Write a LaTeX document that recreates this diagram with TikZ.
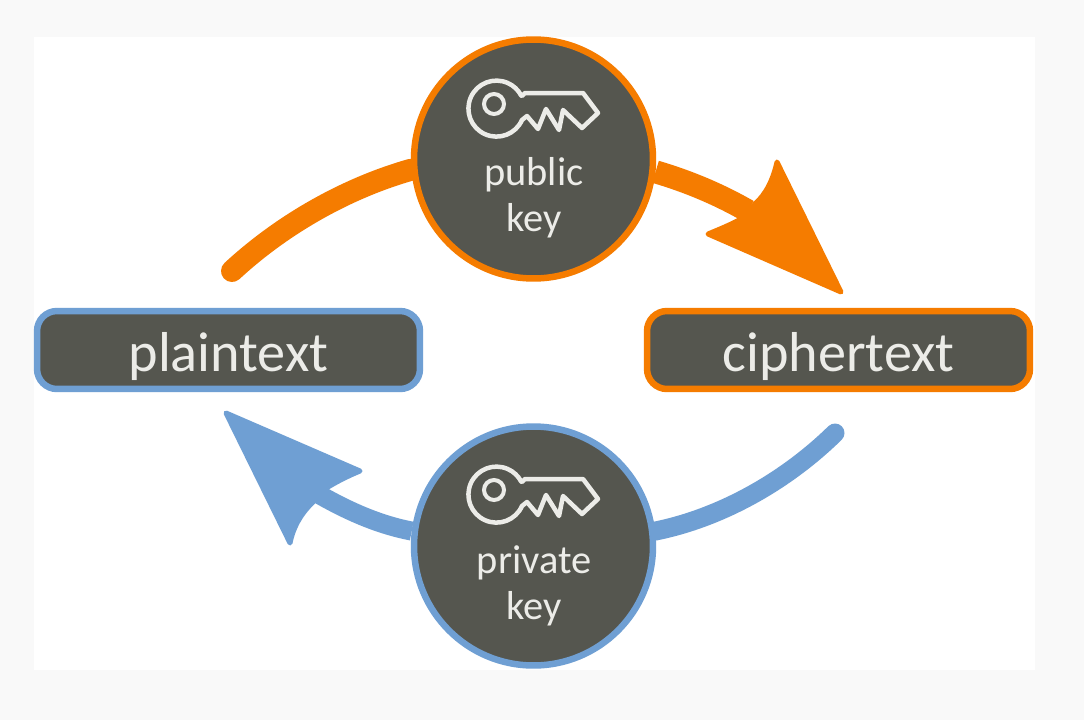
\documentclass[tikz,border=0pt]{standalone}
\usepackage{fontspec}
\setmainfont{Carlito}
\usetikzlibrary{backgrounds}
\definecolor{slate}{HTML}{55564F}
\definecolor{tangerine}{HTML}{F57C00}
\definecolor{steel}{HTML}{6F9FD3}
\definecolor{paper}{HTML}{F9F9F9}
\definecolor{ink}{HTML}{ECECE8}
\tikzset{
  keycircle/.style={circle, fill=slate, line width=0.13cm, minimum size=4.78cm, inner sep=0pt},
  textbox/.style={rectangle, rounded corners=0.4cm, fill=slate, line width=0.13cm, minimum width=7.66cm, minimum height=1.56cm, text height=25pt, text depth=0pt, text=ink, font=\fontsize{32}{34}\selectfont},
  keylabel/.style={text=ink, align=center, font=\fontsize{23}{26}\selectfont},
  keyicon/.pic={
    \draw[ink, line width=0.09cm, line join=round]
      (25,-13) -- (28,-16) -- (86,-16) -- (101,4) -- (85,19) -- (66,1) -- (62,21) -- (49,0) -- (41,20) -- (30,7) -- (25,11)
      arc[start angle=24, end angle=332, radius=28] -- cycle;
    \draw[ink, line width=0.08cm] (-3,-5) circle[radius=10];
  }
}
\begin{document}
\begin{tikzpicture}[x=0.02cm, y=-0.02cm]
\useasboundingbox (0,0) rectangle (1084,720);

% Nodes
\node[keycircle, draw=tangerine] (pub) at (533.5,159) {};
\node[keycircle, draw=steel] (priv) at (533.5,546) {};
\node[textbox, draw=steel] (plain) at (228.5,350) {plaintext};
\node[textbox, draw=tangerine] (cipher) at (838.5,350) {ciphertext};
\node[keylabel] (publbl) at (534,198) {public\\key};
\node[keylabel] (privlbl) at (534,586) {private\\key};
\coordinate (pubfrom) at (232,271);
\coordinate (pubto) at (748,211);
\coordinate (privfrom) at (835,433);
\coordinate (privto) at (320,495);

% Key icons
\pic at (497,109) {keyicon};
\pic at (497,495) {keyicon};

% Arcs
\begin{scope}[on background layer]
\fill[paper] (0,0) rectangle (1084,720);
\fill[white] (34,37) rectangle (1035,670);
\draw[tangerine, line width=0.44cm, line cap=round] (pubfrom) .. controls (285,222) and (350,187) .. (pub.185);
\draw[tangerine, line width=0.46cm] (pub.-6) .. controls (690,182) and (720,195) .. (pubto);
\draw[steel, line width=0.38cm, line cap=round] (privfrom) .. controls (785,482) and (720,518) .. (priv.7);
\draw[steel, line width=0.38cm] (priv.173) .. controls (380,525) and (350,512) .. (privto);
\end{scope}

% Arrow heads
\fill[tangerine, draw=tangerine, line width=0.1cm, line join=round] (777,162) .. controls (773,180) and (766,194) .. (755,204) -- (741,219) .. controls (730,225) and (720,229) .. (708,234) -- (841,292) -- cycle;
\fill[steel, draw=steel, line width=0.1cm, line join=round] (290,543) .. controls (293,528) and (300,515) .. (312,503) -- (328,487) .. controls (338,481) and (348,476) .. (360,471) -- (226,413) -- cycle;
\end{tikzpicture}
\end{document}
